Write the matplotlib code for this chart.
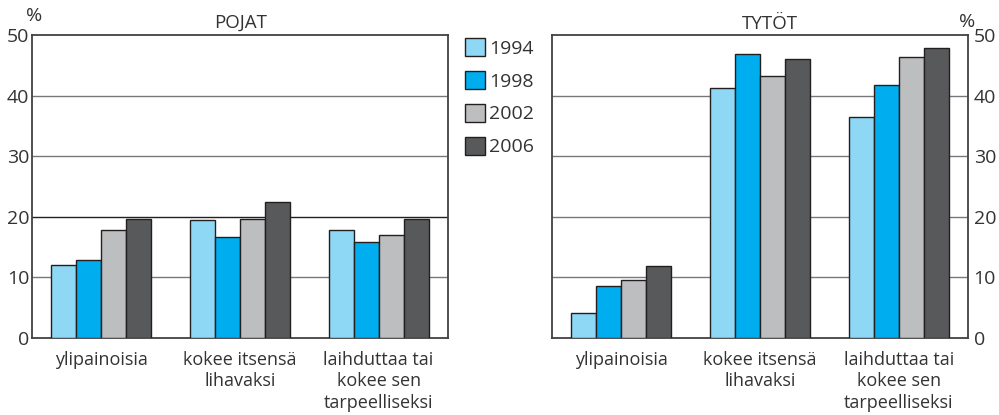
#!/usr/bin/env python3
# Pojat / tytöt: ylipaino ja laihduttaminen 1994-2006
import numpy as np
import matplotlib
matplotlib.use('Agg')
import matplotlib.pyplot as plt

categories = ['ylipainoisia', 'kokee itsensä\nlihavaksi', 'laihduttaa tai\nkokee sen\ntarpeelliseksi']
years = ['1994', '1998', '2002', '2006']

pojat_1994 = [12.0, 19.4, 17.9]
pojat_1998 = [12.9, 16.7, 15.9]
pojat_2002 = [17.9, 19.7, 17.0]
pojat_2006 = [19.7, 22.4, 19.7]

tytot_1994 = [4.1, 41.2, 36.4]
tytot_1998 = [8.6, 46.9, 41.8]
tytot_2002 = [9.5, 43.3, 46.3]
tytot_2006 = [11.9, 46.0, 47.8]

yticks = [0, 10, 20, 30, 40, 50]

colors = ['#8fd8f5', '#00aeef', '#bcbec0', '#58595b']
txt = '#333333'

plt.rcParams['font.family'] = ['Open Sans', 'DejaVu Sans']
plt.rcParams['text.color'] = txt

fig = plt.figure(figsize=(9.99, 4.15), dpi=100)
axL = fig.add_axes([0.032, 0.1855, 0.4164, 0.730])
axR = fig.add_axes([0.5526, 0.1855, 0.4164, 0.730])

def draw(ax, series, side, dark20):
	x = np.arange(len(categories))
	w = 0.18
	bars = []
	for i, vals in enumerate(series):
		b = ax.bar(x + (i - 1.5) * w, vals, w, color=colors[i], edgecolor='#231f20',
			linewidth=1.0, zorder=3, label=years[i])
		bars.append(b)
	for t in yticks[1:-1]:
		c = '#231f20' if (dark20 and t == 20) else '#77787b'
		ax.axhline(t, color=c, lw=1.0, zorder=1)
	ax.set_xlim(-0.5, 2.5)
	ax.set_ylim(0, 50)
	ax.set_yticks(yticks)
	ax.set_xticks(x)
	ax.set_xticklabels(categories, fontsize=13, color=txt, linespacing=1.25)
	ax.tick_params(axis='x', length=0, pad=9)
	ax.tick_params(axis='y', length=0, labelsize=14, labelcolor=txt, pad=2)
	if side == 'right':
		ax.yaxis.tick_right()
		ax.tick_params(axis='y', pad=4)
	for s in ax.spines.values():
		s.set_color('#414042')
		s.set_linewidth(1.3)
	return bars

bars = draw(axL, [pojat_1994, pojat_1998, pojat_2002, pojat_2006], 'left', True)
draw(axR, [tytot_1994, tytot_1998, tytot_2002, tytot_2006], 'right', False)

axL.text(0.502, 1.04, 'POJAT', transform=axL.transAxes, ha='center', va='center', fontsize=13.5)
axR.text(0.524, 1.035, 'TYTÖT', transform=axR.transAxes, ha='center', va='center', fontsize=13.5)
fig.text(34/999, 1 - 16/415, '%', ha='center', va='center', fontsize=14)
fig.text(967/999, 1 - 22/415, '%', ha='center', va='center', fontsize=14)

fig.legend(handles=bars, labels=years, loc='upper left', bbox_to_anchor=(465/999, 1 - 38/415),
	frameon=False, fontsize=14, handlelength=1.05, handleheight=1.05, handletextpad=0.2,
	labelspacing=0.68, borderpad=0, borderaxespad=0)

fig.savefig('out.png', dpi=100)
